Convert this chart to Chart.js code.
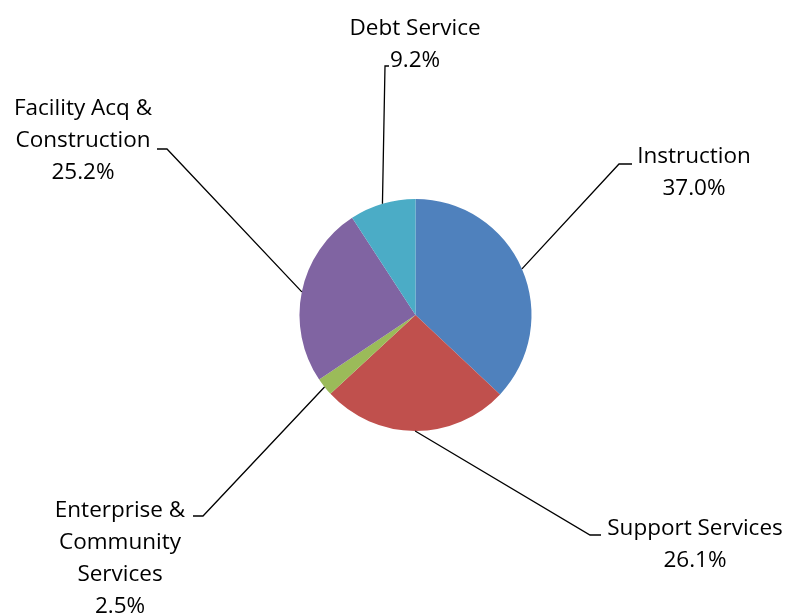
<!DOCTYPE html>
<html>
<head>
<meta charset="utf-8">
<script src="https://cdn.jsdelivr.net/npm/chart.js@4"></script>
<style>
  html, body { margin: 0; padding: 0; background: #fff; }
  #wrap { width: 787px; height: 616px; }
</style>
</head>
<body>
<div id="wrap"><canvas id="chart"></canvas></div>
<script>
// Expenditure share by function
const categories = ['Instruction', 'Support Services', 'Enterprise & Community Services', 'Facility Acq & Construction', 'Debt Service'];
const shares = [37.0, 26.1, 2.5, 25.2, 9.2];
const sliceColors = ['#4F81BD', '#C0504D', '#9BBB59', '#8064A2', '#4BACC6'];

// label text lines (category wrapped the way it is printed)
const labelLines = [
  ['Instruction'],
  ['Support Services'],
  ['Enterprise &', 'Community', 'Services'],
  ['Facility Acq &', 'Construction'],
  ['Debt Service']
];

// leader elbow + text block placement per slice
// elbow: where the slanted line turns; hookX: end of short horizontal; text: center x, first baseline y
const labelLayout = [
  { elbow: [619, 164], hookX: 632, tx: 694, ty: 163 },
  { elbow: [590, 535], hookX: 601, tx: 695, ty: 535 },
  { elbow: [203, 516], hookX: 193, tx: 120, ty: 517 },
  { elbow: [167, 149], hookX: 157, tx: 83,  ty: 115 },
  { elbow: [385, 66],  hookX: 389, tx: 415, ty: 35 }
];

const FONT = "22.5px 'Open Sans', Lato, sans-serif";
const LINE_H = 32;

const leaderLabels = {
  id: 'leaderLabels',
  afterDatasetsDraw(chart) {
    const ctx = chart.ctx;
    const arcs = chart.getDatasetMeta(0).data;
    ctx.save();
    arcs.forEach((arc, i) => {
      const p = arc.getProps(['x', 'y', 'startAngle', 'endAngle', 'outerRadius'], true);
      const mid = (p.startAngle + p.endAngle) / 2;
      const sx = p.x + Math.cos(mid) * p.outerRadius;
      const sy = p.y + Math.sin(mid) * p.outerRadius;
      const lay = labelLayout[i];

      ctx.strokeStyle = '#000';
      ctx.lineWidth = 1.3;
      ctx.beginPath();
      ctx.moveTo(sx, sy);
      ctx.lineTo(lay.elbow[0], lay.elbow[1]);
      ctx.lineTo(lay.hookX, lay.elbow[1]);
      ctx.stroke();

      const lines = labelLines[i].concat([shares[i].toFixed(1) + '%']);
      ctx.fillStyle = '#000';
      ctx.font = FONT;
      ctx.textAlign = 'center';
      ctx.textBaseline = 'alphabetic';
      lines.forEach((t, k) => ctx.fillText(t, lay.tx, lay.ty + k * LINE_H));
    });
    ctx.restore();
  }
};

new Chart(document.getElementById('chart'), {
  type: 'pie',
  data: {
    labels: categories,
    datasets: [{
      data: shares,
      backgroundColor: sliceColors,
      borderColor: '#ffffff',
      borderWidth: 0,
      hoverOffset: 0
    }]
  },
  options: {
    responsive: true,
    maintainAspectRatio: false,
    animation: false,
    layout: { padding: { left: 299.5, right: 255.5, top: 199, bottom: 185 } },
    plugins: {
      legend: { display: false },
      tooltip: { enabled: false }
    }
  },
  plugins: [leaderLabels]
});
</script>
</body>
</html>
